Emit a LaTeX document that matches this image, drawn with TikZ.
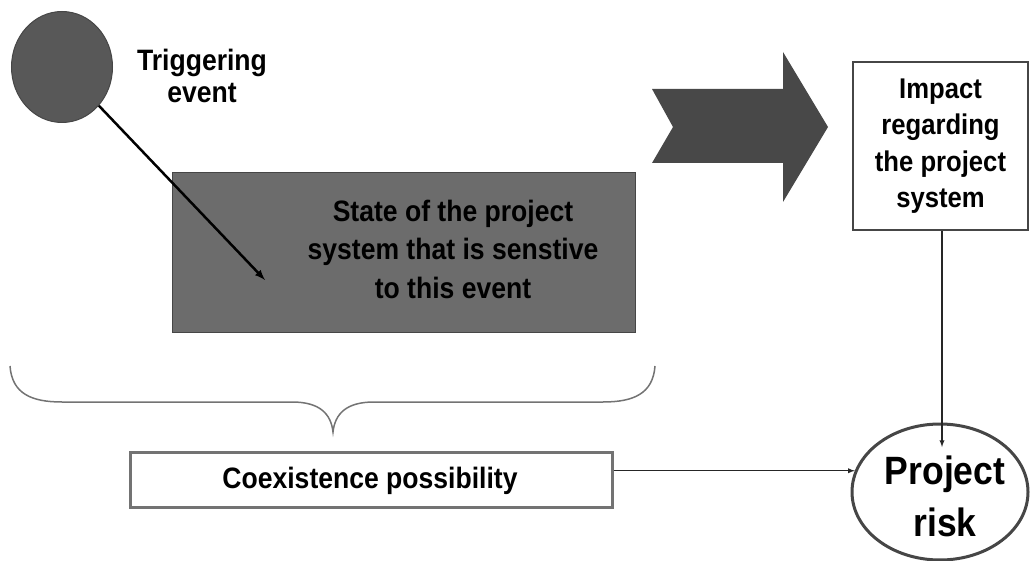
\documentclass[tikz,border=0pt]{standalone}
\usepackage{fontspec}
\setmainfont{Liberation Sans}[FakeStretch=0.9]
\usetikzlibrary{positioning,shapes.geometric}

\definecolor{circlegray}{RGB}{88,88,88}
\definecolor{boxgray}{RGB}{108,108,108}
\definecolor{arrowgray}{RGB}{72,72,72}
\definecolor{edgegray}{RGB}{70,70,70}
\definecolor{framegray}{RGB}{115,115,115}

\tikzset{
  diatext/.style={font=\bfseries, align=center, text=black},
  whitebox/.style={draw=edgegray, line width=2pt, fill=white, rectangle},
  flow/.style={->, >=latex, line width=1.3pt, draw=black!85}
}

\begin{document}
\begin{tikzpicture}[x=1pt, y=-1pt, every text node part/.style={align=center}]
        \useasboundingbox (0,0) rectangle (1031,561);

        % triggering event and the sensitive state
        \node(event) at (62,67)[ellipse, minimum width=101pt, minimum height=111pt, fill=circlegray, draw=edgegray, line width=1pt]{};
        \node(eventlabel) at (202,76)[diatext, font=\bfseries\fontsize{29.5}{32}\selectfont]{Triggering\\event};

        \node(state) at (403.5,253)[rectangle, minimum width=463pt, minimum height=160pt, fill=boxgray, draw=edgegray, line width=1pt]{};
        \node(statelabel) at (453,249)[diatext, font=\bfseries\fontsize{29.5}{38.5}\selectfont]{State of the project\\system that is senstive\\to this event};

        \coordinate(hit) at (265,280);
        \draw[->, >=latex, line width=2.5pt](event) -- (hit);

        % big chevron towards the impact
        \fill[arrowgray](652,89) -- (783,89) -- (783,52) -- (828,127) -- (783,202) -- (783,163) -- (652,163) -- (673,127) -- cycle;

        \node(impact) at (940.5,146)[whitebox, minimum width=175pt, minimum height=168pt]{};
        \node(impactlabel) at (940.5,146)[diatext, font=\bfseries\fontsize{28.5}{36.5}\selectfont]{Impact\\regarding\\the project\\system};

        % brace over the coexistence
        \draw[framegray, line width=1.5pt](10,366) .. controls (12,394) and (32,402) .. (62,402) -- (292,402) .. controls (320,402) and (331,414) .. (333,432) .. controls (335,414) and (346,402) .. (374,402) -- (603,402) .. controls (633,402) and (653,394) .. (655,366);

        \node(coex) at (371,479.5)[whitebox, draw=framegray, line width=3pt, minimum width=482pt, minimum height=55pt]{};
        \node(coexlabel) at (370,481)[diatext, font=\bfseries\fontsize{29.5}{36}\selectfont]{Coexistence possibility};

        % project risk
        \node(risk) at (940,492)[ellipse, draw=edgegray, line width=3pt, fill=white, minimum width=176pt, minimum height=136pt]{};
        \node(risklabel) at (945,496)[diatext, font=\bfseries\fontsize{39.5}{52}\selectfont]{Project\\risk};

        \coordinate(risktop) at (942,447);
        \draw[flow](impact.south -| risktop) -- (risktop);
        \draw[flow](coex.east |- risk.166) -- (risk.166);

    \end{tikzpicture}
\end{document}
